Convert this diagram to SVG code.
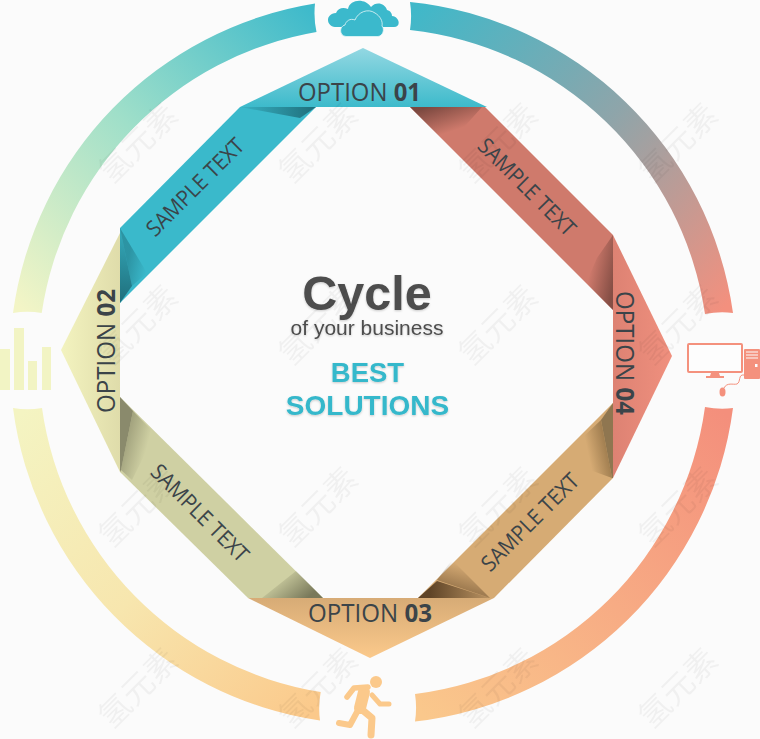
<svg xmlns="http://www.w3.org/2000/svg" width="760" height="739" viewBox="0 0 760 739">
<style>
.opt{font-family:"Open Sans","Noto Sans",sans-serif;font-size:25px;fill:#3b4449;text-anchor:middle}
.opt tspan{font-weight:700}
.smp{font-family:"Open Sans","Noto Sans",sans-serif;font-size:22px;fill:#3b4449;text-anchor:middle}
.h{font-family:"Liberation Sans",Arial,sans-serif;text-anchor:middle}
.wm{font-family:"Noto Sans CJK SC",sans-serif;font-size:32px;fill:#000;opacity:.04;text-anchor:middle}
</style>
<defs>
<filter id="ts" x="-10%" y="-20%" width="120%" height="140%"><feDropShadow dx="0" dy="1" stdDeviation="1" flood-color="#000" flood-opacity=".2"/></filter>
<linearGradient id="rTL" gradientUnits="userSpaceOnUse" x1="316" y1="18" x2="26" y2="313"><stop offset="0" stop-color="#3fbacb"/><stop offset=".5" stop-color="#9fdfc9"/><stop offset="1" stop-color="#f3f5c6"/></linearGradient>
<linearGradient id="rTR" gradientUnits="userSpaceOnUse" x1="410" y1="16" x2="720" y2="313"><stop offset="0" stop-color="#40b8c9"/><stop offset=".5" stop-color="#8ea5aa"/><stop offset="1" stop-color="#f3907e"/></linearGradient>
<linearGradient id="rBL" gradientUnits="userSpaceOnUse" x1="26" y1="408" x2="320" y2="706"><stop offset="0" stop-color="#f4f4c2"/><stop offset=".5" stop-color="#f7e6ae"/><stop offset="1" stop-color="#fbc98b"/></linearGradient>
<linearGradient id="rBR" gradientUnits="userSpaceOnUse" x1="415" y1="708" x2="720" y2="408"><stop offset="0" stop-color="#fac88c"/><stop offset="1" stop-color="#f48f7c"/></linearGradient>
<linearGradient id="t1" x1="0" y1="0" x2="0" y2="1"><stop offset="0" stop-color="#93d8e2"/><stop offset="1" stop-color="#3dbacb"/></linearGradient>
<linearGradient id="t2" x1="0" y1="0" x2="1" y2="0"><stop offset="0" stop-color="#f3f3bf"/><stop offset="1" stop-color="#dfdcaa"/></linearGradient>
<linearGradient id="t3" x1="0" y1="0" x2="0" y2="1"><stop offset="0" stop-color="#d7ab76"/><stop offset="1" stop-color="#fbc98b"/></linearGradient>
<linearGradient id="t4" x1="0" y1="0" x2="1" y2="0"><stop offset="0" stop-color="#dd8273"/><stop offset="1" stop-color="#f0907e"/></linearGradient>
<linearGradient id="s1a" gradientUnits="userSpaceOnUse" x1="315" y1="107" x2="245" y2="107"><stop offset="0" stop-color="#1f6f7c"/><stop offset="1" stop-color="#1f6f7c" stop-opacity=".15"/></linearGradient>
<linearGradient id="s1b" gradientUnits="userSpaceOnUse" x1="120" y1="302" x2="125" y2="235"><stop offset="0" stop-color="#1f6f7c"/><stop offset="1" stop-color="#1f6f7c" stop-opacity=".25"/></linearGradient>
<linearGradient id="s1c" gradientUnits="userSpaceOnUse" x1="126" y1="270" x2="146" y2="274"><stop offset="0" stop-color="#1f6f7c" stop-opacity=".5"/><stop offset="1" stop-color="#1f6f7c" stop-opacity="0"/></linearGradient>
<linearGradient id="s2a" gradientUnits="userSpaceOnUse" x1="428" y1="107" x2="438" y2="136"><stop offset="0" stop-color="#6d4038" stop-opacity=".85"/><stop offset="1" stop-color="#6d4038" stop-opacity="0"/></linearGradient>
<linearGradient id="s2b" gradientUnits="userSpaceOnUse" x1="613" y1="285" x2="588" y2="280"><stop offset="0" stop-color="#6d4038" stop-opacity=".75"/><stop offset="1" stop-color="#6d4038" stop-opacity="0"/></linearGradient>
<linearGradient id="s3a" gradientUnits="userSpaceOnUse" x1="430" y1="598" x2="500" y2="598"><stop offset="0" stop-color="#5f4427"/><stop offset="1" stop-color="#5f4427" stop-opacity=".1"/></linearGradient>
<linearGradient id="s3b" gradientUnits="userSpaceOnUse" x1="604" y1="440" x2="586" y2="444"><stop offset="0" stop-color="#70552f" stop-opacity=".5"/><stop offset="1" stop-color="#70552f" stop-opacity="0"/></linearGradient>
<linearGradient id="s3c" gradientUnits="userSpaceOnUse" x1="448" y1="584" x2="454" y2="562"><stop offset="0" stop-color="#5f4427" stop-opacity=".45"/><stop offset="1" stop-color="#5f4427" stop-opacity="0"/></linearGradient>
<linearGradient id="s4a" gradientUnits="userSpaceOnUse" x1="305" y1="600" x2="282" y2="572"><stop offset="0" stop-color="#6f6f52" stop-opacity=".9"/><stop offset="1" stop-color="#6f6f52" stop-opacity="0"/></linearGradient>
<linearGradient id="s4b" gradientUnits="userSpaceOnUse" x1="128" y1="430" x2="150" y2="436"><stop offset="0" stop-color="#7c7c5e" stop-opacity=".55"/><stop offset="1" stop-color="#7c7c5e" stop-opacity="0"/></linearGradient>
</defs>
<rect width="760" height="739" fill="#fbfbfb"/>
<g id="ring">
<path fill="url(#rTL)" d="M315 3.500A363 363 0 0 0 13 313A90 90 0 0 1 41.700 313A335 335 0 0 1 316.500 32A90 90 0 0 1 315 3.500Z"/>
<path fill="url(#rTR)" d="M410 2A363 363 0 0 1 733 313A90 90 0 0 0 705 314A335 335 0 0 0 410 30A90 90 0 0 0 410 2Z"/>
<path fill="url(#rBL)" d="M13 408A363 363 0 0 0 320 720.500A90 90 0 0 1 320.700 692A335 335 0 0 1 42 408A90 90 0 0 1 13 408Z"/>
<path fill="url(#rBR)" d="M733 408A363 363 0 0 1 415 721.600A90 90 0 0 0 415 694A335 335 0 0 0 705 407A90 90 0 0 0 733 408Z"/>
</g>
<g id="band-1">
<polygon fill="#3ab9cb" points="240,107 316,107 120,303 120,228"/>
<polygon fill="url(#s1a)" points="240,107 316,107 300,118"/>
<polygon fill="url(#s1c)" points="120,228 132,286 147,273"/>
<polygon fill="url(#s1b)" points="120,228 120,303 132,286"/>
</g>
<g id="band-2">
<polygon fill="#cf7a6c" points="410,107 485,107 613,235 613,310"/>
<polygon fill="url(#s2a)" points="410,107 482,107 448,145"/>
<polygon fill="url(#s2b)" points="613,235 613,310 586,283 597,258"/>
</g>
<g id="band-3">
<polygon fill="#d6ab74" points="613,403 613,478 494,598 418,598"/>
<polygon fill="url(#s3c)" points="437,580 490,598 452,560"/>
<polygon fill="url(#s3a)" points="418,598 490,598 437,581"/>
<polygon fill="url(#s3b)" points="601,420 612,478 590,470 582,438"/>
<polygon fill="#8f7650" points="613,403 601,420 612,478 613,478"/>
</g>
<g id="band-4">
<polygon fill="#cfd0a3" points="120,397 120,472 248,598 323,598"/>
<polygon fill="url(#s4a)" points="323,598 262,598 296,571"/>
<polygon fill="url(#s4b)" points="133,411 121,470 132,480 155,434"/>
<polygon fill="#8a8a6c" points="120,397 133,411 121,470 120,472"/>
</g>
<g id="option-02">
<polygon fill="url(#t2)" points="120,233 120,472 61,350"/>
<text class="opt" transform="translate(115 351) rotate(-90)" textLength="124" lengthAdjust="spacingAndGlyphs">OPTION <tspan>02</tspan></text>
</g>
<g id="option-04">
<polygon fill="url(#t4)" points="613,235 672,356 613,478"/>
<text class="opt" transform="translate(616 353) rotate(90)" textLength="124" lengthAdjust="spacingAndGlyphs">OPTION <tspan>04</tspan></text>
</g>
<g id="option-01">
<polygon fill="url(#t1)" points="363,48 487,107 240,107"/>
<text class="opt" x="359.500" y="101" textLength="123" lengthAdjust="spacingAndGlyphs">OPTION <tspan>01</tspan></text>
</g>
<g id="option-03">
<polygon fill="url(#t3)" points="248,598 494,598 370,658"/>
<text class="opt" x="370" y="622" textLength="124" lengthAdjust="spacingAndGlyphs">OPTION <tspan>03</tspan></text>
</g>
<g id="samples">
<text class="smp" transform="translate(200.500 192.500) rotate(-45)" textLength="128" lengthAdjust="spacingAndGlyphs">SAMPLE TEXT</text>
<text class="smp" transform="translate(521.500 192.500) rotate(45)" textLength="128" lengthAdjust="spacingAndGlyphs">SAMPLE TEXT</text>
<text class="smp" transform="translate(535.500 527.500) rotate(-45)" textLength="128" lengthAdjust="spacingAndGlyphs">SAMPLE TEXT</text>
<text class="smp" transform="translate(194.500 518.500) rotate(45)" textLength="128" lengthAdjust="spacingAndGlyphs">SAMPLE TEXT</text>
</g>
<g id="center">
<text class="h" x="367" y="310" font-size="48.500" font-weight="700" fill="#4d4d4d" filter="url(#ts)">Cycle</text>
<text class="h" x="367" y="335" font-size="21" fill="#4d4d4d" filter="url(#ts)">of your business</text>
<text class="h" x="367.500" y="382" font-size="27.500" font-weight="700" fill="#36b8cb" filter="url(#ts)">BEST</text>
<text class="h" x="367.500" y="415" font-size="28" font-weight="700" fill="#36b8cb" filter="url(#ts)">SOLUTIONS</text>
</g>
<g id="icon-cloud">
<path fill="#3bb9cc" d="M335 27C326 26 325 14 336 13C338 8 343 7 348 9C350 -1 365 -2 371 7C376 1 385 3 387 10C391 11 392 14 392 16C400 17 401 27 394 27Z"/>
<path fill="#3bb9cc" stroke="#e6f6f8" stroke-width=".8" d="M346 36.500C339 36 339 26 345 25C346 21 350 18 355 20C358 12 368 8 375 13C380 16 383 21 382 26C385 29 383 36 378 36.500Z"/>
</g>
<g id="icon-bars" fill="#f2f4c4">
<rect x="0" y="349" width="10" height="41"/><rect x="14" y="328" width="10" height="62"/><rect x="28" y="361" width="9" height="29"/><rect x="42" y="347" width="9" height="43"/>
</g>
<g id="icon-computer">
<rect x="688" y="344" width="54" height="28" rx="1" fill="#fdfdfd" stroke="#f4917d" stroke-width="2"/>
<path fill="#f4917d" d="M711 373H719L720 376H724V378H706V376H710Z"/>
<rect x="744" y="349" width="16" height="30" rx="1" fill="#f4917d"/>
<path stroke="#fcfcfc" stroke-width="1" d="M746 352H758M746 355H758M746 358H758"/>
<rect x="755" y="364" width="2.500" height="3" fill="#fcfcfc"/>
<path fill="none" stroke="#f4917d" d="M744 375C738 374 741 382 737 384C733 385 727 382 724 388"/>
<ellipse cx="722.500" cy="392" rx="3" ry="4.500" fill="#f4917d"/>
</g>
<g id="icon-runner" fill="none" stroke="#fbc98b" stroke-linecap="round" stroke-linejoin="round">
<circle cx="376" cy="682" r="6" fill="#fbc98b" stroke="none"/>
<path stroke-width="12" d="M364 692L360 708"/>
<path stroke-width="5.500" d="M347 697L354 688L368 687"/>
<path stroke-width="5" d="M372 695L380 704L389 704"/>
<path stroke-width="7" d="M360 708L372 718L371 735"/>
<path stroke-width="6" d="M357 712L350 725L339 723"/>
</g>
<g id="watermarks">
<text class="wm" transform="translate(146 151) rotate(-45)">氢元素</text>
<text class="wm" transform="translate(326 151) rotate(-45)">氢元素</text>
<text class="wm" transform="translate(506 151) rotate(-45)">氢元素</text>
<text class="wm" transform="translate(686 151) rotate(-45)">氢元素</text>
<text class="wm" transform="translate(146 333) rotate(-45)">氢元素</text>
<text class="wm" transform="translate(326 333) rotate(-45)">氢元素</text>
<text class="wm" transform="translate(506 333) rotate(-45)">氢元素</text>
<text class="wm" transform="translate(686 333) rotate(-45)">氢元素</text>
<text class="wm" transform="translate(146 515) rotate(-45)">氢元素</text>
<text class="wm" transform="translate(326 515) rotate(-45)">氢元素</text>
<text class="wm" transform="translate(506 515) rotate(-45)">氢元素</text>
<text class="wm" transform="translate(686 515) rotate(-45)">氢元素</text>
<text class="wm" transform="translate(146 696) rotate(-45)">氢元素</text>
<text class="wm" transform="translate(326 696) rotate(-45)">氢元素</text>
<text class="wm" transform="translate(506 696) rotate(-45)">氢元素</text>
<text class="wm" transform="translate(686 696) rotate(-45)">氢元素</text>
</g>
</svg>
